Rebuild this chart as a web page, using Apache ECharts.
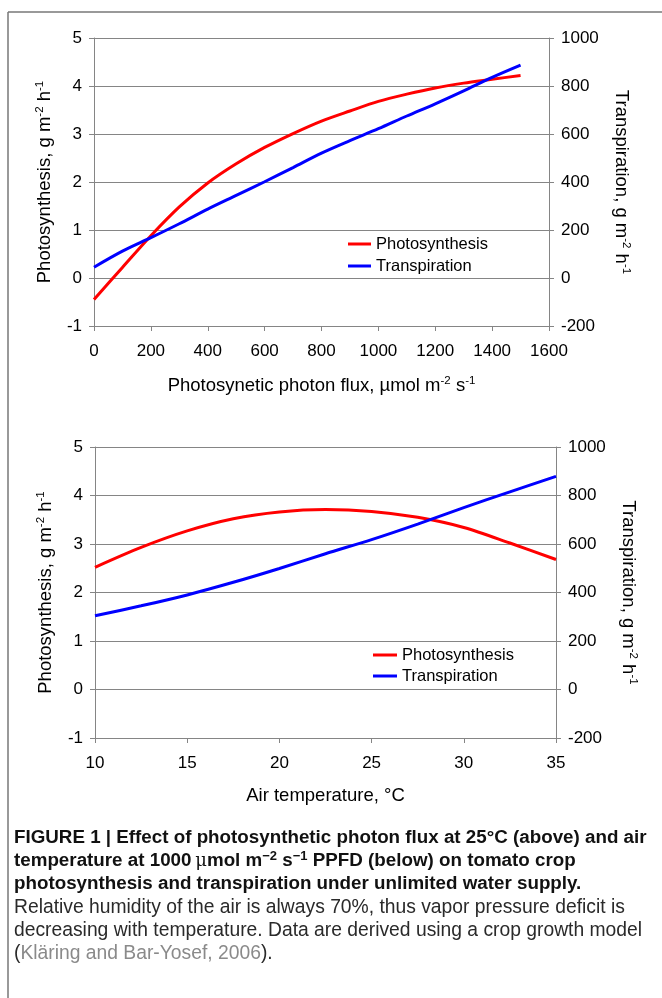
<!DOCTYPE html>
<html>
<head>
<meta charset="utf-8">
<script src="https://cdn.jsdelivr.net/npm/echarts@6/dist/echarts.min.js"></script>
<style>
html,body{margin:0;padding:0;background:#fff;}
#c{width:662px;height:998px;}
</style>
</head>
<body>
<div id="c"></div>
<script>
// ---- Data ----
var ppfd = [0,100,200,300,400,500,600,700,800,900,1000,1100,1200,1300,1400,1500];
var photoPPFD = [-0.45,0.22,0.88,1.48,1.98,2.38,2.72,3.01,3.27,3.48,3.68,3.83,3.96,4.06,4.14,4.22];
var transPPFD = [45,112,168,226,287,344,401,460,520,572,622,675,726,780,836,887];

var temp = [10,12.5,15,17.5,20,22.5,25,27.5,30,32.5,35];
var photoTemp = [2.52,2.93,3.27,3.52,3.66,3.71,3.67,3.55,3.34,3.02,2.68];
var transTemp = [304,345,390,442,499,560,618,682,750,815,879];

var leftTicks = {min:-1, max:5, interval:1};
var rightTicks = {min:-200, max:1000, interval:200};

var FONT = '"Liberation Sans", Arial, sans-serif';
var AX = '#858585';
var TICKFS = 17, NAMEFS = 18.5;

function pairs(xs, ys){ return xs.map(function(x,i){return [x, ys[i]];}); }
function plain(v){ return String(v); }

var supRich = {sup:{fontSize:11.5, lineHeight:11, verticalAlign:'top', fontFamily:FONT, color:'#000'}};

function xAxis(gi, min, max, interval, name, gap){
  return {
    type:'value', gridIndex:gi, min:min, max:max, interval:interval,
    name:name, nameLocation:'middle', nameGap:gap,
    nameTextStyle:{fontSize:NAMEFS, color:'#000', fontFamily:FONT, lineHeight:22, rich:supRich},
    axisLine:{show:true, onZero:false, lineStyle:{color:AX, width:1}},
    axisTick:{show:true, inside:false, length:5, lineStyle:{color:AX}},
    axisLabel:{fontSize:TICKFS, color:'#000', fontFamily:FONT, margin:17, formatter:plain},
    splitLine:{show:false}
  };
}
function yLeft(gi, gap){
  return {
    type:'value', gridIndex:gi, position:'left', min:leftTicks.min, max:leftTicks.max, interval:leftTicks.interval,
    name:'Photosynthesis, g m{sup|-2} h{sup|-1}', nameLocation:'middle', nameGap:gap, nameRotate:90,
    nameTextStyle:{fontSize:NAMEFS, color:'#000', fontFamily:FONT, lineHeight:22, rich:supRich},
    axisLine:{show:true, lineStyle:{color:AX, width:1}},
    axisTick:{show:true, length:5, lineStyle:{color:AX}},
    axisLabel:{fontSize:TICKFS, color:'#000', fontFamily:FONT, margin:12, formatter:plain},
    splitLine:{show:true, lineStyle:{color:AX, width:1}}
  };
}
function yRight(gi, gap){
  return {
    type:'value', gridIndex:gi, position:'right', min:rightTicks.min, max:rightTicks.max, interval:rightTicks.interval,
    name:'Transpiration, g m{sup|-2} h{sup|-1}', nameLocation:'middle', nameGap:gap, nameRotate:-90,
    nameTextStyle:{fontSize:NAMEFS, color:'#000', fontFamily:FONT, lineHeight:22, rich:supRich},
    axisLine:{show:true, lineStyle:{color:AX, width:1}},
    axisTick:{show:true, length:5, lineStyle:{color:AX}},
    axisLabel:{fontSize:TICKFS, color:'#000', fontFamily:FONT, margin:12, formatter:plain},
    splitLine:{show:false}
  };
}
function line(name, xi, yi, data, color){
  return {type:'line', name:name, xAxisIndex:xi, yAxisIndex:yi, data:data, smooth:0.3,
    showSymbol:false, symbol:'none', lineStyle:{color:color, width:3}, itemStyle:{color:color}, animation:false};
}
function legend(left, top, gap, w){
  return {orient:'vertical', left:left, top:top, itemWidth:w, itemHeight:3, itemGap:gap, icon:'rect',
    data:['Photosynthesis','Transpiration'], selectedMode:false,
    textStyle:{fontSize:16.5, color:'#000', fontFamily:FONT, lineHeight:18}, padding:0};
}

function capLine(cy, text, bold, rich){
  var fs = bold ? 18.8 : 19.3;
  return {type:'text', left:14, top:cy - 11.5, silent:true,
    style:{text:text, fill: bold ? '#111' : '#2a2a2a', font:(bold?'bold ':'')+fs+'px '+FONT, lineHeight:23, rich:rich||{}}};
}
var capRich = {
  sup:{fill:'#111', font:'bold 13px '+FONT, lineHeight:13, verticalAlign:'top'},
  mu:{fill:'#111', font:'18px "DejaVu Serif", serif'},
  lk:{fill:'#8a8a8a', font:'19.3px '+FONT}
};

var chart = echarts.init(document.getElementById('c'), null, {renderer:'canvas'});
chart.setOption({
  backgroundColor:'#fff',
  animation:false,
  grid:[
    {left:94, top:38, width:455, height:288},
    {left:95, top:447, width:461, height:291}
  ],
  xAxis:[
    xAxis(0, 0, 1600, 200, 'Photosynetic photon flux, \u00b5mol m{sup|-2} s{sup|-1}', 49),
    xAxis(1, 10, 35, 5, 'Air temperature, \u00b0C', 47)
  ],
  yAxis:[ yLeft(0, 35), yRight(0, 52), yLeft(1, 36), yRight(1, 40) ],
  legend:[ legend(348, 235, 4, 23), legend(373, 646, 3, 24) ],
  series:[
    line('Photosynthesis', 0, 0, pairs(ppfd, photoPPFD), '#ff0000'),
    line('Transpiration', 0, 1, pairs(ppfd, transPPFD), '#0000ff'),
    line('Photosynthesis', 1, 2, pairs(temp, photoTemp), '#ff0000'),
    line('Transpiration', 1, 3, pairs(temp, transTemp), '#0000ff')
  ],
  graphic:[
    {type:'line', silent:true, shape:{x1:8, y1:12, x2:662, y2:12}, style:{stroke:'#777', lineWidth:1.5}},
    {type:'line', silent:true, shape:{x1:8, y1:12, x2:8, y2:998}, style:{stroke:'#777', lineWidth:1.5}},
    capLine(838, 'FIGURE 1 | Effect of photosynthetic photon flux at 25\u00b0C (above) and air', true),
    capLine(861, 'temperature at 1000\u2009{mu|\u03bc}mol m{sup|\u22122} s{sup|\u22121} PPFD (below) on tomato crop', true, capRich),
    capLine(884, 'photosynthesis and transpiration under unlimited water supply.', true),
    capLine(908, 'Relative humidity of the air is always 70%, thus vapor pressure deficit is', false),
    capLine(931, 'decreasing with temperature. Data are derived using a crop growth model', false),
    capLine(954, '({lk|Kl\u00e4ring and Bar-Yosef, 2006}).', false, capRich)
  ]
});
</script>
</body>
</html>
